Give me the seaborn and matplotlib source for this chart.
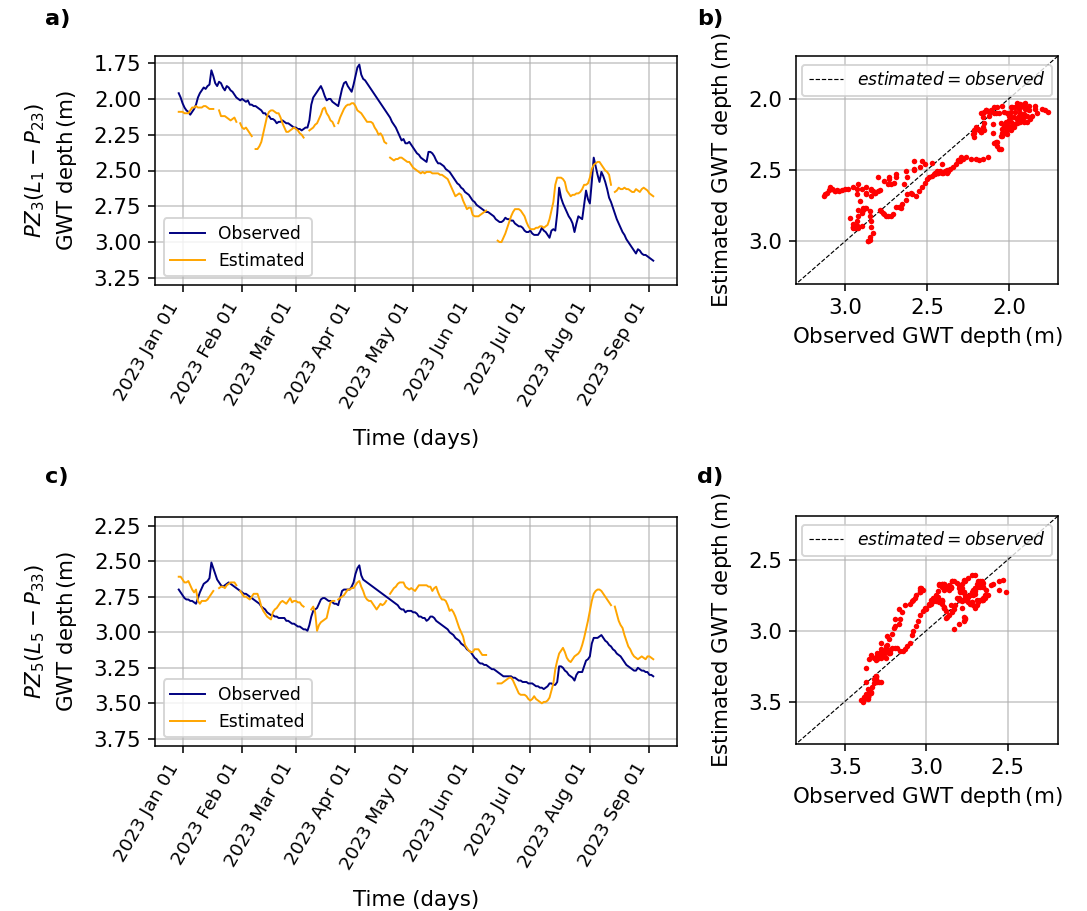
import numpy as np
import pandas as pd
import matplotlib
matplotlib.use("Agg")
import matplotlib.pyplot as plt
import matplotlib.dates as mdates
from matplotlib.ticker import MultipleLocator
import seaborn as sns

nan = np.nan

# Daily series from 2022-12-30 to 2023-09-03
start_date = "2022-12-30"

obs_pz3 = [
    1.96, 1.99, 2.03, 2.06, 2.08, 2.09, 2.11, 2.09, 2.07, 2.04,
    1.99, 1.96, 1.94, 1.92, 1.93, 1.91, 1.90, 1.80, 1.84, 1.89,
    1.91, 1.88, 1.89, 1.92, 1.94, 1.91, 1.92, 1.94, 1.95, 1.97,
    1.99, 2.00, 2.01, 2.00, 2.01, 2.02, 2.01, 2.04, 2.04, 2.05,
    2.05, 2.06, 2.07, 2.08, 2.10, 2.10, 2.12, 2.12, 2.14, 2.14,
    2.15, 2.17, 2.16, 2.16, 2.15, 2.16, 2.17, 2.17, 2.18, 2.19,
    2.20, 2.20, 2.21, 2.21, 2.22, 2.21, 2.20, 2.20, 2.15, 2.04,
    1.99, 1.97, 1.95, 1.93, 1.91, 1.94, 1.98, 2.01, 2.00, 2.00,
    2.02, 2.03, 2.04, 2.05, 1.99, 1.93, 1.89, 1.88, 1.91, 1.93,
    1.95, 1.90, 1.84, 1.78, 1.76, 1.83, 1.86, 1.87, 1.89, 1.91,
    1.93, 1.95, 1.97, 1.99, 2.01, 2.03, 2.05, 2.07, 2.09, 2.11,
    2.13, 2.16, 2.18, 2.20, 2.23, 2.26, 2.29, 2.28, 2.31, 2.31,
    2.30, 2.32, 2.34, 2.36, 2.38, 2.39, 2.41, 2.42, 2.43, 2.44,
    2.37, 2.37, 2.38, 2.40, 2.43, 2.45, 2.45, 2.46, 2.47, 2.49,
    2.50, 2.51, 2.53, 2.55, 2.57, 2.59, 2.60, 2.62, 2.63, 2.65,
    2.66, 2.67, 2.69, 2.71, 2.72, 2.74, 2.75, 2.76, 2.77, 2.78,
    2.79, 2.79, 2.80, 2.81, 2.82, 2.84, 2.85, 2.86, 2.86, 2.85,
    2.83, 2.84, 2.84, 2.85, 2.85, 2.87, 2.88, 2.89, 2.89, 2.90,
    2.92, 2.93, 2.93, 2.92, 2.94, 2.95, 2.95, 2.95, 2.93, 2.90,
    2.92, 2.93, 2.95, 2.97, 2.92, 2.91, 2.92, 2.80, 2.62, 2.69,
    2.73, 2.76, 2.79, 2.82, 2.84, 2.87, 2.93, 2.87, 2.82, 2.83,
    2.84, 2.74, 2.64, 2.70, 2.73, 2.58, 2.41, 2.47, 2.53, 2.58,
    2.51, 2.54, 2.58, 2.63, 2.69, 2.72, 2.76, 2.80, 2.84, 2.87,
    2.90, 2.93, 2.95, 2.98, 3.00, 3.02, 3.04, 3.06, 3.08, 3.05,
    3.06, 3.08, 3.09, 3.09, 3.10, 3.11, 3.12, 3.13,
]

est_pz3 = [
    2.09, 2.09, 2.09, 2.10, 2.10, 2.10, 2.08, 2.06, 2.06, 2.05,
    2.06, 2.06, 2.06, 2.05, 2.05, 2.06, 2.07, 2.07, 2.07, nan,
    nan, 2.08, 2.12, 2.12, 2.12, 2.13, 2.14, 2.15, 2.14, 2.13,
    2.16, nan, 2.17, 2.20, 2.21, 2.20, 2.22, 2.24, 2.26, nan,
    2.35, 2.35, 2.33, 2.30, 2.24, 2.18, 2.12, 2.09, 2.08, 2.08,
    2.09, 2.10, 2.10, 2.13, 2.17, 2.20, 2.23, 2.23, 2.22, 2.21,
    2.20, 2.21, 2.22, 2.24, 2.25, 2.27, nan, nan, 2.22, 2.21,
    2.20, 2.18, 2.17, 2.14, 2.11, 2.07, 2.06, 2.10, 2.12, 2.15,
    2.16, 2.19, nan, 2.17, 2.13, 2.10, 2.07, 2.05, 2.04, 2.04,
    2.03, 2.03, 2.05, 2.08, 2.09, 2.10, 2.12, 2.14, 2.16, 2.16,
    2.16, 2.17, 2.20, 2.22, 2.25, 2.24, 2.26, 2.30, 2.31, nan,
    2.41, 2.42, 2.43, 2.42, 2.42, 2.41, 2.41, 2.42, 2.43, 2.44,
    2.44, 2.46, 2.48, 2.49, 2.50, 2.51, 2.52, 2.51, 2.52, 2.51,
    2.51, 2.51, 2.52, 2.52, 2.52, 2.52, 2.53, 2.53, 2.54, 2.55,
    2.56, 2.59, 2.62, 2.65, 2.68, 2.67, 2.66, 2.67, 2.71, 2.74,
    2.77, 2.76, 2.76, 2.81, 2.82, 2.82, 2.82, 2.81, 2.80, 2.79,
    2.78, nan, nan, nan, nan, nan, 2.99, 3.00, 3.00, 2.97,
    2.94, 2.90, 2.86, 2.82, 2.79, 2.77, 2.77, 2.77, 2.78, 2.80,
    2.82, 2.86, 2.89, 2.91, 2.91, 2.91, 2.90, 2.90, 2.89, 2.89,
    2.90, 2.89, 2.88, 2.84, 2.78, 2.72, 2.60, 2.55, 2.55, 2.55,
    2.56, 2.58, 2.64, 2.66, 2.68, 2.67, 2.67, 2.66, 2.66, 2.65,
    2.63, 2.60, 2.60, 2.59, 2.55, 2.49, 2.46, 2.45, 2.44, 2.44,
    2.46, 2.48, 2.50, 2.51, 2.53, 2.60, nan, 2.65, 2.64, 2.62,
    2.63, 2.63, 2.62, 2.63, 2.63, 2.64, 2.65, 2.65, 2.63, 2.64,
    2.65, 2.63, 2.62, 2.63, 2.64, 2.66, 2.67, 2.68,
]

obs_pz5 = [
    2.70, 2.72, 2.74, 2.76, 2.77, 2.77, 2.78, 2.78, 2.79, 2.80,
    2.76, 2.72, 2.69, 2.66, 2.65, 2.64, 2.62, 2.51, 2.55, 2.59,
    2.63, 2.65, 2.67, 2.68, 2.67, 2.66, 2.65, 2.66, 2.67, 2.68,
    2.69, 2.70, 2.71, 2.72, 2.73, 2.73, 2.74, 2.75, 2.76, 2.77,
    2.78, 2.79, 2.80, 2.82, 2.83, 2.84, 2.86, 2.87, 2.88, 2.88,
    2.89, 2.89, 2.90, 2.90, 2.90, 2.90, 2.92, 2.92, 2.93, 2.94,
    2.94, 2.95, 2.96, 2.96, 2.97, 2.98, 2.98, 2.99, 2.95, 2.89,
    2.85, 2.84, 2.83, 2.80, 2.77, 2.76, 2.76, 2.77, 2.78, 2.78,
    2.79, 2.80, 2.80, 2.81, 2.76, 2.71, 2.70, 2.70, 2.70, 2.70,
    2.68, 2.65, 2.59, 2.55, 2.53, 2.60, 2.63, 2.64, 2.65, 2.66,
    2.67, 2.68, 2.69, 2.70, 2.71, 2.72, 2.73, 2.74, 2.75, 2.76,
    2.77, 2.78, 2.79, 2.80, 2.81, 2.83, 2.84, 2.84, 2.86, 2.85,
    2.85, 2.85, 2.86, 2.86, 2.87, 2.89, 2.89, 2.90, 2.90, 2.92,
    2.91, 2.89, 2.89, 2.90, 2.92, 2.93, 2.94, 2.95, 2.96, 2.97,
    2.98, 3.00, 3.01, 3.02, 3.04, 3.05, 3.06, 3.08, 3.09, 3.10,
    3.12, 3.13, 3.14, 3.16, 3.18, 3.19, 3.21, 3.22, 3.22, 3.23,
    3.23, 3.24, 3.25, 3.26, 3.26, 3.27, 3.28, 3.29, 3.30, 3.31,
    3.31, 3.31, 3.31, 3.31, 3.32, 3.32, 3.33, 3.34, 3.34, 3.35,
    3.35, 3.35, 3.36, 3.36, 3.36, 3.37, 3.38, 3.38, 3.39, 3.39,
    3.40, 3.39, 3.38, 3.36, 3.36, 3.37, 3.37, 3.35, 3.24, 3.24,
    3.25, 3.27, 3.28, 3.30, 3.31, 3.32, 3.34, 3.30, 3.28, 3.28,
    3.28, 3.24, 3.20, 3.19, 3.17, 3.08, 3.04, 3.04, 3.04, 3.03,
    3.02, 3.04, 3.06, 3.07, 3.09, 3.10, 3.12, 3.13, 3.15, 3.16,
    3.17, 3.19, 3.21, 3.23, 3.24, 3.25, 3.26, 3.27, 3.27, 3.25,
    3.26, 3.27, 3.27, 3.28, 3.28, 3.30, 3.30, 3.31,
]

est_pz5 = [
    2.61, 2.61, 2.63, 2.65, 2.65, 2.64, 2.67, 2.70, 2.72, 2.70,
    2.78, 2.80, 2.78, 2.78, 2.78, 2.77, 2.75, 2.73, 2.71, nan,
    nan, 2.69, 2.68, 2.68, 2.69, 2.67, 2.66, 2.65, 2.65, 2.65,
    2.67, nan, 2.71, 2.73, 2.75, 2.75, 2.76, 2.77, 2.75, 2.73,
    2.73, 2.73, 2.77, 2.82, 2.85, 2.87, 2.89, 2.90, 2.91, 2.86,
    2.84, 2.83, 2.81, 2.79, 2.78, 2.79, 2.80, 2.78, 2.76, 2.79,
    2.78, 2.78, 2.79, 2.79, 2.81, 2.82, nan, nan, nan, 2.84,
    2.82, 2.86, 2.99, 2.95, 2.93, 2.92, 2.91, 2.90, 2.84, 2.79,
    2.78, 2.78, nan, 2.77, 2.76, 2.75, 2.74, 2.72, 2.70, 2.70,
    2.69, 2.69, 2.67, 2.65, 2.64, 2.68, 2.71, 2.75, 2.77, 2.78,
    2.78, 2.80, 2.82, 2.84, 2.82, 2.80, 2.81, 2.80, 2.78, nan,
    2.73, 2.71, 2.69, 2.68, 2.66, 2.65, 2.65, 2.65, 2.68, 2.69,
    2.70, 2.69, 2.70, 2.71, 2.69, 2.67, 2.67, 2.67, 2.67, 2.67,
    2.68, 2.68, 2.71, 2.69, 2.68, 2.72, 2.75, 2.77, 2.77, 2.78,
    2.81, 2.85, 2.84, 2.86, 2.89, 2.93, 2.97, 3.00, 3.03, 3.09,
    3.11, 3.13, 3.14, 3.14, 3.12, 3.12, 3.12, 3.14, 3.16, 3.16,
    3.16, nan, nan, nan, nan, nan, 3.36, 3.36, 3.36, 3.35,
    3.34, 3.33, 3.32, 3.32, 3.34, 3.37, 3.40, 3.43, 3.44, 3.44,
    3.44, 3.45, 3.47, 3.48, 3.47, 3.45, 3.47, 3.48, 3.49, 3.50,
    3.49, 3.49, 3.48, 3.46, 3.41, 3.36, 3.26, 3.20, 3.15, 3.13,
    3.11, 3.14, 3.18, 3.20, 3.21, 3.19, 3.17, 3.16, 3.15, 3.13,
    3.09, 3.04, 2.98, 2.92, 2.85, 2.78, 2.73, 2.71, 2.70, 2.70,
    2.71, 2.73, 2.75, 2.77, 2.79, 2.81, nan, 2.82, 2.87, 2.92,
    2.95, 2.97, 3.02, 3.06, 3.10, 3.12, 3.15, 3.17, 3.18, 3.19,
    3.18, 3.17, 3.18, 3.19, 3.17, 3.17, 3.18, 3.19,
]

panel_letters = ["a)", "b)", "c)", "d)"]
well_labels = ["$PZ_3(L_1-P_{23})$", "$PZ_5(L_5-P_{33})$"]
lims_pz3 = (1.70, 3.30)
lims_pz5 = (2.19, 3.80)

plt.rcParams["font.size"] = 11.0
plt.rcParams["legend.fontsize"] = 8.8
plt.rcParams["axes.labelpad"] = 7.5

DPI = 140
fig = plt.figure(figsize=(1087 / DPI, 911 / DPI), dpi=DPI)

W, H = 1087.0, 911.0


def box(left, top, right, bottom):
    return [left / W, 1 - bottom / H, (right - left) / W, (bottom - top) / H]


ax_a = fig.add_axes(box(155, 56, 677, 285))
ax_b = fig.add_axes(box(796, 56, 1058, 284))
ax_c = fig.add_axes(box(155, 517, 677, 746))
ax_d = fig.add_axes(box(796, 516, 1058, 744))


def segments(dates, vals):
    vals = np.asarray(vals, dtype=float)
    ok = ~np.isnan(vals)
    segs = []
    i = 0
    n = len(vals)
    while i < n:
        if ok[i]:
            j = i
            while j < n and ok[j]:
                j += 1
            segs.append((dates[i:j], vals[i:j]))
            i = j
        else:
            i += 1
    return segs


def ts_panel(ax, obs, est, ylab, lims):
    dates = pd.date_range(start_date, periods=len(obs), freq="D")
    sns.lineplot(x=dates, y=np.asarray(obs), ax=ax, color="navy", lw=1.0,
                 label="Observed", estimator=None)
    first = True
    for d, v in segments(dates, est):
        sns.lineplot(x=d, y=v, ax=ax, color="orange", lw=1.0,
                     label="Estimated" if first else None, estimator=None)
        first = False
    ax.set_ylim(lims[1], lims[0])
    ax.yaxis.set_major_locator(MultipleLocator(0.25))
    ax.grid(True, color="#b0b0b0", lw=0.8, alpha=0.7)
    ax.xaxis.set_major_locator(mdates.MonthLocator())
    ax.xaxis.set_major_formatter(mdates.DateFormatter("%Y %b %d"))
    ax.tick_params(axis="x", labelsize=9.5)
    for lab in ax.get_xticklabels():
        lab.set_rotation(60)
        lab.set_ha("right")
    ax.set_xlabel("Time (days)", labelpad=8.5)
    ax.set_ylabel(ylab + "\nGWT depth$\\,$(m)", linespacing=1.45)
    ax.legend(loc="lower left")


def sc_panel(ax, obs, est, lims):
    o = np.asarray(obs, dtype=float)
    e = np.asarray(est, dtype=float)
    m = ~np.isnan(e)
    df = pd.DataFrame({"obs": o[m], "est": e[m]})
    sns.scatterplot(data=df, x="obs", y="est", ax=ax, color="red", s=8,
                    linewidth=0, zorder=3)
    ax.plot([lims[0], lims[1]], [lims[0], lims[1]], ls="--", color="black",
            lw=0.6, label="$estimated=observed$", zorder=2)
    ax.set_xlim(lims[1], lims[0])
    ax.set_ylim(lims[1], lims[0])
    ax.xaxis.set_major_locator(MultipleLocator(0.5))
    ax.yaxis.set_major_locator(MultipleLocator(0.5))
    ax.grid(True, color="#b0b0b0", lw=0.8, alpha=0.7)
    ax.set_xlabel("Observed GWT depth$\\,$(m)", labelpad=4)
    ax.set_ylabel("Estimated GWT depth$\\,$(m)")
    ax.legend(loc="upper center")


ts_panel(ax_a, obs_pz3, est_pz3, well_labels[0], lims_pz3)
sc_panel(ax_b, obs_pz3, est_pz3, lims_pz3)
ts_panel(ax_c, obs_pz5, est_pz5, well_labels[1], lims_pz5)
sc_panel(ax_d, obs_pz5, est_pz5, lims_pz5)

for txt, (px, py) in zip(panel_letters, [(45, 19), (697, 19), (45, 477), (697, 477)]):
    fig.text(px / W, 1 - py / H, txt, weight="bold", va="center", fontsize=11.5)

fig.savefig("out.png", dpi=DPI)
